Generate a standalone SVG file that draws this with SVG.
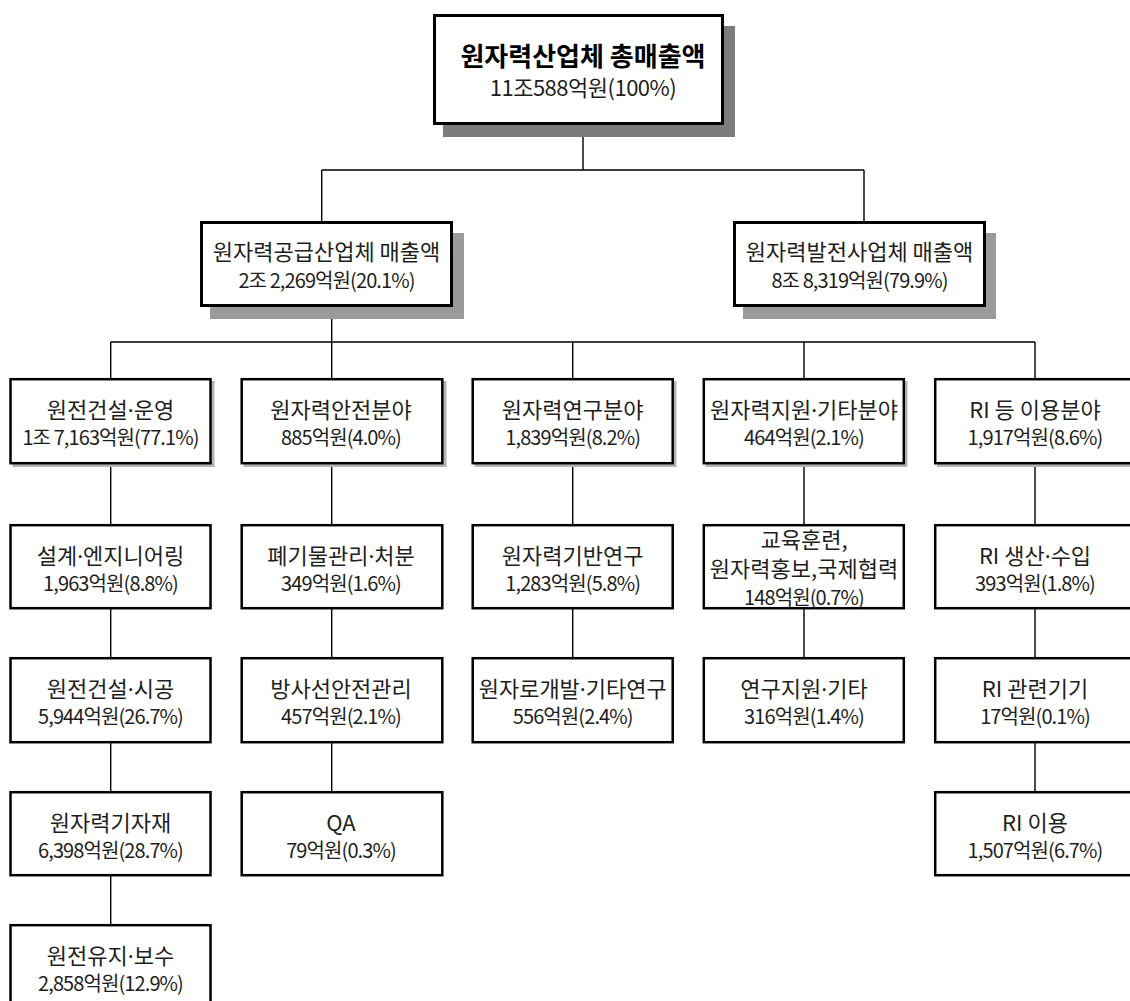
<svg xmlns="http://www.w3.org/2000/svg" width="1130" height="1001" viewBox="0 0 1130 1001">
<style>
  text { font-family: "Noto Sans CJK KR", "Noto Sans", sans-serif; fill: #1e1e1e; text-anchor: middle; }
  .d { font-family: "Noto Sans", sans-serif; }
  .t0 { font-size: 26px; font-weight: bold; fill: #000; }
  .s0 { font-size: 22px; letter-spacing: -0.5px; }
  .t1 { font-size: 22px; }
  .s1 { font-size: 20px; letter-spacing: -0.9px; }
  .t2 { font-size: 22px; }
  .s2 { font-size: 20px; letter-spacing: -0.9px; }
  .box0 { fill: #fff; stroke: #000; stroke-width: 3; }
  .box1 { fill: #fff; stroke: #000; stroke-width: 3; }
  .box2 { fill: #fff; stroke: #000; stroke-width: 2.5; }
  .sh0 { fill: #7c7c7c; }
  .sh1 { fill: #9a9a9a; }
  .sh2 { fill: #b4b4b4; }
  .conn { stroke: #000; stroke-width: 1.4; fill: none; }
</style>

<g id="connectors">
  <path class="conn" d="M583 125 V170 M321.7 170 H864 M321.7 170 V221 M864 170 V221"/>
  <path class="conn" d="M331.7 307 V378 M110.7 342 H1035 M110.7 342 V378 M572.7 342 V378 M804 342 V378 M1035 342 V378"/>
  <path class="conn" d="M110.7 464 V924 M331.7 464 V791 M572.7 464 V657 M804 464 V657 M1035 464 V791"/>
</g>

<g id="total">
  <rect class="sh0" x="443" y="26" width="292" height="111"/>
  <rect class="box0" x="434.5" y="15.5" width="288" height="108"/>
  <text class="t0" x="583" y="65.5">원자력산업체 총매출액</text>
  <text class="s0" x="583" y="95.5">11조588억원(100%)</text>
</g>

<g id="supply">
  <rect class="sh1" x="210" y="233" width="254" height="86"/>
  <rect class="box1" x="201.5" y="222.5" width="250" height="83"/>
  <text class="t1" x="326.5" y="259.5">원자력공급산업체 매출액</text>
  <text class="s1" x="326.5" y="287.5">2조 2,269억원(20.1%)</text>
</g>

<g id="power">
  <rect class="sh1" x="743" y="233" width="253" height="86"/>
  <rect class="box1" x="734.5" y="222.5" width="250" height="83"/>
  <text class="t1" x="859.5" y="259.5">원자력발전사업체 매출액</text>
  <text class="s1" x="859.5" y="287.5">8조 8,319억원(79.9%)</text>
</g>

<!-- Row 1 -->
<g id="n-c1r1">
  <rect class="sh2" x="12.5" y="381" width="202" height="86"/>
  <rect class="box2" x="10.5" y="379.2" width="200" height="84"/>
  <text class="t2" x="110.5" y="418">원전건설<tspan class="d">·</tspan>운영</text>
  <text class="s2" x="110.5" y="445">1조 7,163억원(77.1%)</text>
</g>
<g id="n-c2r1">
  <rect class="sh2" x="243.5" y="381" width="203" height="86"/>
  <rect class="box2" x="241.7" y="379.2" width="200.6" height="84"/>
  <text class="t2" x="341" y="418">원자력안전분야</text>
  <text class="s2" x="341" y="445">885억원(4.0%)</text>
</g>
<g id="n-c3r1">
  <rect class="sh2" x="474.5" y="381" width="202" height="86"/>
  <rect class="box2" x="472.7" y="379.2" width="200" height="84"/>
  <text class="t2" x="572.7" y="418">원자력연구분야</text>
  <text class="s2" x="572.7" y="445">1,839억원(8.2%)</text>
</g>
<g id="n-c4r1">
  <rect class="sh2" x="705.5" y="381" width="202" height="86"/>
  <rect class="box2" x="703.8" y="379.2" width="200" height="84"/>
  <text class="t2" x="804" y="418">원자력지원<tspan class="d">·</tspan>기타분야</text>
  <text class="s2" x="804" y="445">464억원(2.1%)</text>
</g>
<g id="n-c5r1">
  <rect class="sh2" x="937" y="381" width="202" height="86"/>
  <rect class="box2" x="935.2" y="379.2" width="200" height="84"/>
  <text class="t2" x="1035" y="418">RI 등 이용분야</text>
  <text class="s2" x="1035" y="445">1,917억원(8.6%)</text>
</g>

<!-- Row 2 -->
<g id="n-c1r2">
  <rect class="box2" x="10.5" y="525.2" width="200" height="83"/>
  <text class="t2" x="110.5" y="563.5">설계<tspan class="d">·</tspan>엔지니어링</text>
  <text class="s2" x="110.5" y="590.5">1,963억원(8.8%)</text>
</g>
<g id="n-c2r2">
  <rect class="box2" x="241.7" y="525.2" width="200.6" height="83"/>
  <text class="t2" x="341" y="563.5">폐기물관리<tspan class="d">·</tspan>처분</text>
  <text class="s2" x="341" y="590.5">349억원(1.6%)</text>
</g>
<g id="n-c3r2">
  <rect class="box2" x="472.7" y="525.2" width="200" height="83"/>
  <text class="t2" x="572.7" y="563.5">원자력기반연구</text>
  <text class="s2" x="572.7" y="590.5">1,283억원(5.8%)</text>
</g>
<g id="n-c4r2">
  <rect class="box2" x="703.8" y="525.2" width="200" height="83"/>
  <text class="t2" x="804" y="548">교육훈련,</text>
  <text class="t2" x="804" y="577">원자력홍보,국제협력</text>
  <text class="s2" x="804" y="605">148억원(0.7%)</text>
</g>
<g id="n-c5r2">
  <rect class="box2" x="935.2" y="525.2" width="200" height="83"/>
  <text class="t2" x="1035" y="563.5">RI 생산<tspan class="d">·</tspan>수입</text>
  <text class="s2" x="1035" y="590.5">393억원(1.8%)</text>
</g>

<!-- Row 3 -->
<g id="n-c1r3">
  <rect class="box2" x="10.5" y="658.2" width="200" height="84"/>
  <text class="t2" x="110.5" y="696.5">원전건설<tspan class="d">·</tspan>시공</text>
  <text class="s2" x="110.5" y="723.5">5,944억원(26.7%)</text>
</g>
<g id="n-c2r3">
  <rect class="box2" x="241.7" y="658.2" width="200.6" height="84"/>
  <text class="t2" x="341" y="696.5">방사선안전관리</text>
  <text class="s2" x="341" y="723.5">457억원(2.1%)</text>
</g>
<g id="n-c3r3">
  <rect class="box2" x="472.7" y="658.2" width="200" height="84"/>
  <text class="t2" x="572.7" y="696.5">원자로개발<tspan class="d">·</tspan>기타연구</text>
  <text class="s2" x="572.7" y="723.5">556억원(2.4%)</text>
</g>
<g id="n-c4r3">
  <rect class="box2" x="703.8" y="658.2" width="200" height="84"/>
  <text class="t2" x="804" y="696.5">연구지원<tspan class="d">·</tspan>기타</text>
  <text class="s2" x="804" y="723.5">316억원(1.4%)</text>
</g>
<g id="n-c5r3">
  <rect class="box2" x="935.2" y="658.2" width="200" height="84"/>
  <text class="t2" x="1035" y="696.5">RI 관련기기</text>
  <text class="s2" x="1035" y="723.5">17억원(0.1%)</text>
</g>

<!-- Row 4 -->
<g id="n-c1r4">
  <rect class="box2" x="10.5" y="792.2" width="200" height="83"/>
  <text class="t2" x="110.5" y="830.5">원자력기자재</text>
  <text class="s2" x="110.5" y="857.5">6,398억원(28.7%)</text>
</g>
<g id="n-c2r4">
  <rect class="box2" x="241.7" y="792.2" width="200.6" height="83"/>
  <text class="t2" x="341" y="830.5">QA</text>
  <text class="s2" x="341" y="857.5">79억원(0.3%)</text>
</g>
<g id="n-c5r4">
  <rect class="box2" x="935.2" y="792.2" width="200" height="83"/>
  <text class="t2" x="1035" y="830.5">RI 이용</text>
  <text class="s2" x="1035" y="857.5">1,507억원(6.7%)</text>
</g>

<!-- Row 5 -->
<g id="n-c1r5">
  <rect class="box2" x="10.5" y="925.2" width="200" height="84"/>
  <text class="t2" x="110.5" y="963.5">원전유지<tspan class="d">·</tspan>보수</text>
  <text class="s2" x="110.5" y="990.5">2,858억원(12.9%)</text>
</g>
</svg>
